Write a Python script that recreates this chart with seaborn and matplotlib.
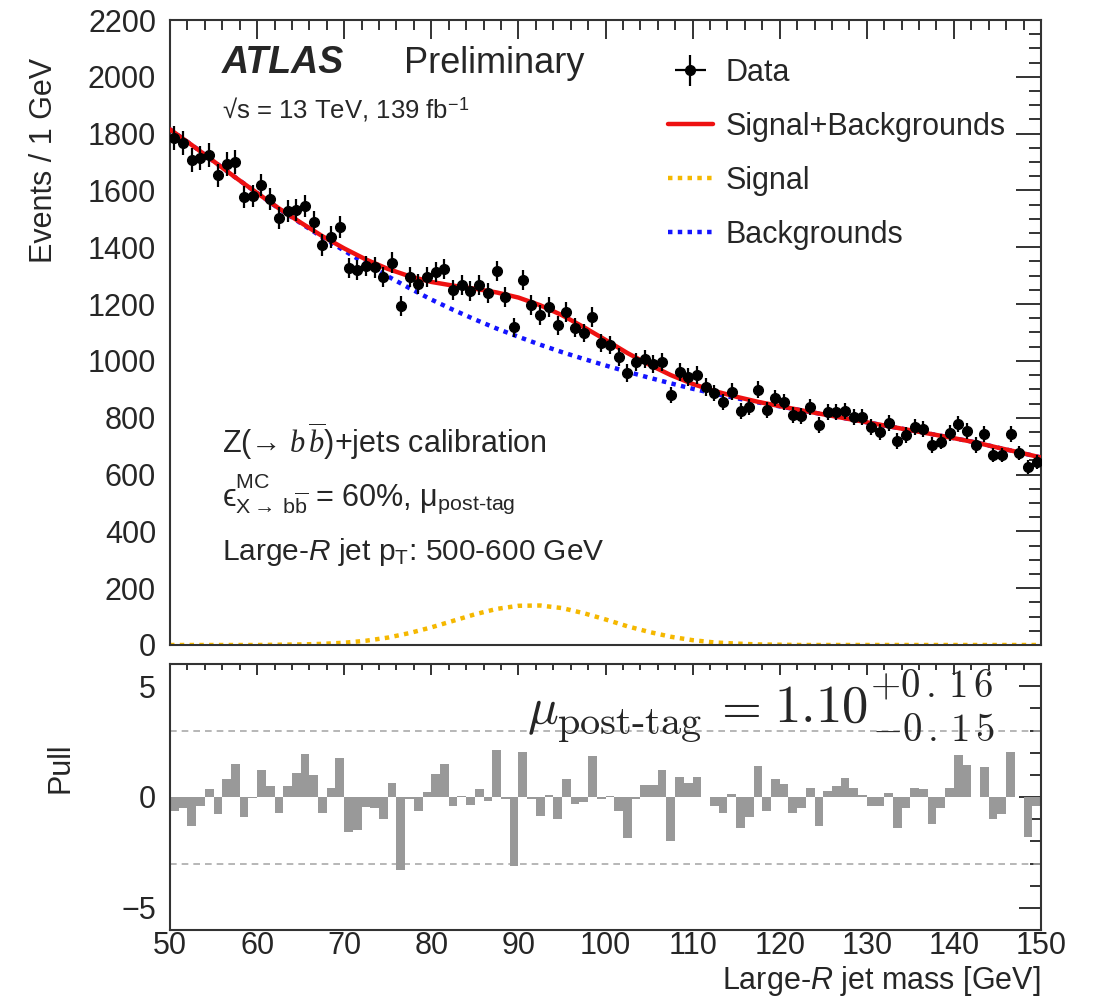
import numpy as np
import pandas as pd
import matplotlib
matplotlib.use("Agg")
import matplotlib.pyplot as plt
import seaborn as sns
from matplotlib.ticker import MultipleLocator

# ---------------- data ----------------
bin_lo, bin_hi = 50, 150
events = [1785, 1767, 1707, 1714, 1725, 1654, 1693, 1700, 1577, 1580,
          1619, 1570, 1503, 1528, 1531, 1545, 1489, 1408, 1436, 1471,
          1327, 1320, 1334, 1330, 1295, 1345, 1193, 1295, 1271, 1295,
          1313, 1323, 1250, 1267, 1246, 1267, 1239, 1316, 1225, 1119,
          1285, 1197, 1162, 1190, 1126, 1172, 1116, 1098, 1155, 1063,
          1056, 1014, 957, 996, 1007, 989, 996, 880, 961, 943,
          950, 908, 887, 855, 891, 824, 838, 898, 827, 869,
          855, 810, 806, 838, 774, 820, 820, 824, 803, 803,
          767, 750, 781, 718, 739, 767, 760, 704, 715, 746,
          778, 753, 704, 743, 669, 669, 743, 676, 627, 644]

pulls = [-0.62, -0.5, -1.3, -0.4, 0.35, -0.77, 0.8, 1.5, -0.88, -0.05,
         1.2, 0.5, -0.7, 0.5, 1.08, 1.92, 0.97, -0.72, 0.42, 1.74,
         -1.58, -1.5, -0.46, -0.5, -1.0, 0.62, -3.3, -0.08, -0.62, 0.23,
         1.03, 1.5, -0.42, 0.05, -0.38, 0.38, -0.2, 2.1, -0.08, -3.1,
         2.03, -0.08, -0.85, 0.1, -0.97, 0.8, -0.3, -0.23, 1.85, -0.1,
         0.05, -0.65, -1.85, -0.1, 0.55, 0.55, 1.2, -2.0, 0.9, 0.65,
         0.9, 0.0, -0.4, -0.7, 0.15, -1.4, -0.9, 1.4, -0.65, 0.8,
         0.6, -0.7, -0.5, 0.4, -1.3, 0.25, 0.5, 0.85, 0.4, 0.1,
         -0.4, -0.4, 0.2, -1.4, -0.5, 0.4, 0.35, -1.2, -0.5, 0.4,
         1.9, 1.45, 0.0, 1.35, -1.0, -0.75, 2.05, 0.0, -1.8, -0.4]

curve_mass = [50, 52.5, 55, 57.5, 60, 62.5, 65, 67.5, 70, 72.5,
              75, 77.5, 80, 82.5, 85, 87.5, 90, 92.5, 95, 97.5,
              100, 102.5, 105, 107.5, 110, 112.5, 115, 117.5, 120, 122.5,
              125, 127.5, 130, 132.5, 135, 137.5, 140, 142.5, 145, 147.5, 150]

fit_total = [1815, 1760, 1703, 1646, 1591, 1537, 1487, 1439, 1396, 1357,
             1324, 1298, 1278, 1265, 1254, 1241, 1223, 1196, 1161, 1119,
             1074, 1028, 987, 950, 919, 894, 874, 856, 841, 826,
             812, 798, 784, 770, 756, 742, 728, 713, 695, 678, 660]

signal = [0, 0, 0, 0, 0, 1, 2, 4, 8, 15,
          26, 42, 62, 85, 108, 127, 138, 139, 130, 112,
          90, 66, 46, 29, 17, 9, 5, 2, 1, 0,
          0, 0, 0, 0, 0, 0, 0, 0, 0, 0, 0]

backgrounds = [1815, 1760, 1703, 1646, 1591, 1536, 1485, 1435, 1388, 1342,
               1298, 1256, 1216, 1180, 1146, 1114, 1085, 1057, 1031, 1007,
               984, 962, 941, 921, 902, 885, 869, 854, 840, 826,
               812, 798, 784, 770, 756, 742, 728, 713, 695, 678, 660]

pull_guides = [3, -3]

# ---------------- tables ----------------
centers = np.arange(bin_lo, bin_hi) + 0.5
df_data = pd.DataFrame({"mass": centers, "events": events,
                        "err": np.sqrt(np.array(events, dtype=float))})
df_curve = pd.DataFrame({"mass": curve_mass, "total": fit_total,
                         "signal": signal, "bkg": backgrounds})
df_pull = pd.DataFrame({"mass": centers, "pull": pulls})

# ---------------- style ----------------
sns.set_theme(style="white")
plt.rcParams["font.family"] = ["Liberation Sans", "DejaVu Sans"]
plt.rcParams["mathtext.fontset"] = "custom"
plt.rcParams["mathtext.rm"] = "Liberation Sans"
plt.rcParams["mathtext.it"] = "Liberation Serif:italic"
plt.rcParams["mathtext.sf"] = "Liberation Sans:italic"
plt.rcParams["mathtext.bf"] = "Liberation Sans:bold"

W, H = 1097, 996
fig = plt.figure(figsize=(W / 100, H / 100), dpi=100)
ax1 = fig.add_axes([170 / W, 1 - 645 / H, 871 / W, 625 / H])
ax2 = fig.add_axes([170 / W, 1 - 930 / H, 871 / W, 266 / H])

def fpx(x, y):
    return x / W, 1 - y / H

FS = 22
spine_col = "#333333"

# ---------------- top panel ----------------
sns.lineplot(data=df_curve, x="mass", y="signal", ax=ax1, color="#f5b800",
             lw=3.2, linestyle=(0, (1.0, 1.2)), label="Signal", zorder=2)
sns.lineplot(data=df_curve, x="mass", y="bkg", ax=ax1, color="#1414ff",
             lw=3.2, linestyle=(0, (1.0, 1.2)), label="Backgrounds", zorder=2)
sns.lineplot(data=df_curve, x="mass", y="total", ax=ax1, color="#ee1111",
             lw=3.2, label="Signal+Backgrounds", zorder=3)
ax1.errorbar(df_data["mass"], df_data["events"], yerr=df_data["err"],
             xerr=0.0, fmt="o", color="black", ms=7, elinewidth=1.6,
             capsize=0, zorder=4, label="Data")

ax1.set_xlim(bin_lo, bin_hi)
ax1.set_ylim(0, 2200)
ax1.yaxis.set_major_locator(MultipleLocator(200))
ax1.yaxis.set_minor_locator(MultipleLocator(50))
ax1.xaxis.set_major_locator(MultipleLocator(10))
ax1.xaxis.set_minor_locator(MultipleLocator(2))
ax1.tick_params(axis="both", which="both", direction="in", top=True,
                right=True, labelsize=FS, color=spine_col, width=1.4)
ax1.tick_params(axis="y", which="major", length=18, pad=10)
ax1.tick_params(axis="y", which="minor", length=9)
ax1.tick_params(axis="x", which="major", length=14)
ax1.tick_params(axis="x", which="minor", length=7)
ax1.tick_params(axis="x", labelbottom=False)
ax1.set_xlabel("")
ax1.set_ylabel("Events / 1 GeV", fontsize=FS)
ax1.yaxis.set_label_coords(-0.128, 0.776)
for s in ax1.spines.values():
    s.set_color(spine_col)
    s.set_linewidth(1.5)

handles, labels = ax1.get_legend_handles_labels()
order = [labels.index(l) for l in ["Data", "Signal+Backgrounds", "Signal", "Backgrounds"]]
ax1.legend([handles[i] for i in order], [labels[i] for i in order],
           loc="upper left", bbox_to_anchor=(0.572, 0.939), frameon=False,
           fontsize=FS, handlelength=1.45, handletextpad=0.42,
           labelspacing=0.78, borderpad=0, borderaxespad=0)

ax1.text(0.0597, 0.915, "ATLAS", transform=ax1.transAxes, fontsize=27,
         fontweight="bold", fontstyle="italic", va="baseline")
ax1.text(0.2687, 0.915, "Preliminary", transform=ax1.transAxes, fontsize=26,
         va="baseline")
ax1.text(0.0597, 0.843, "\u221As = 13 TeV, 139 fb$^{-1}$",
         transform=ax1.transAxes, fontsize=18.5, va="baseline")
ax1.text(0.0597, 0.307, "Z(\u2192 $b\\,\\overline{b}$)+jets calibration",
         transform=ax1.transAxes, fontsize=FS, va="baseline")
ax1.text(0.0597, 0.224,
         "\u03f5$^{\\mathrm{MC}}_{\\mathrm{X\\rightarrow\\ b\\overline{b}}}$ = 60%, \u03bc$_{\\mathrm{post\\text{-}tag}}$",
         transform=ax1.transAxes, fontsize=FS, va="baseline")
ax1.text(0.0597, 0.136, r"Large-$\mathsf{R}$ jet p$_\mathrm{T}$: 500-600 GeV",
         transform=ax1.transAxes, fontsize=21.5, va="baseline")

# ---------------- bottom panel ----------------
ax2.bar(df_pull["mass"], df_pull["pull"], width=1.0, color="#999999",
        edgecolor="none", zorder=2)
for g in pull_guides:
    ax2.axhline(g, color="#aaaaaa", lw=1.2, ls=(0, (4, 3)), zorder=1)
ax2.set_xlim(bin_lo, bin_hi)
ax2.set_ylim(-6, 6)
ax2.yaxis.set_major_locator(MultipleLocator(5))
ax2.yaxis.set_minor_locator(MultipleLocator(1))
ax2.xaxis.set_major_locator(MultipleLocator(10))
ax2.xaxis.set_minor_locator(MultipleLocator(2))
ax2.tick_params(axis="both", which="both", direction="in", top=True,
                right=True, labelsize=FS, color=spine_col, width=1.4)
ax2.tick_params(axis="y", which="major", length=16, pad=10)
ax2.tick_params(axis="y", which="minor", length=8)
ax2.tick_params(axis="x", which="major", length=8, pad=1)
ax2.tick_params(axis="x", which="minor", length=4)
ax2.set_yticks([-5, 0, 5])
ax2.set_yticklabels(["\u22125", "0", "5"])
ax2.set_ylabel("Pull", fontsize=FS)
ax2.yaxis.set_label_coords(-0.109, 0.609)
ax2.set_xlabel(r"Large-$\mathsf{R}$ jet mass [GeV]", fontsize=FS, loc="right")
ax2.xaxis.set_label_coords(1.0, -0.128)
for s in ax2.spines.values():
    s.set_color(spine_col)
    s.set_linewidth(1.5)

# mu_post-tag annotation (serif, computer-modern style)
fig.text(*fpx(527, 724), r"$\mu$", fontsize=37, va="baseline",
         math_fontfamily="cm")
fig.text(*fpx(557, 734), r"$\mathrm{post}\text{-}\mathrm{tag}$", fontsize=29,
         va="baseline", math_fontfamily="cm")
fig.text(*fpx(712, 722), r"$=$", fontsize=37, va="baseline",
         math_fontfamily="cm")
fig.text(*fpx(774, 722), r"$1.10$", fontsize=38, va="baseline",
         math_fontfamily="cm")
fig.text(*fpx(870, 697), r"$+0\,.\,1\,6$", fontsize=28, va="baseline",
         math_fontfamily="cm")
fig.text(*fpx(872, 741), r"$-0\,.\,1\,5$", fontsize=28, va="baseline",
         math_fontfamily="cm")

fig.savefig("out.png", dpi=100)
